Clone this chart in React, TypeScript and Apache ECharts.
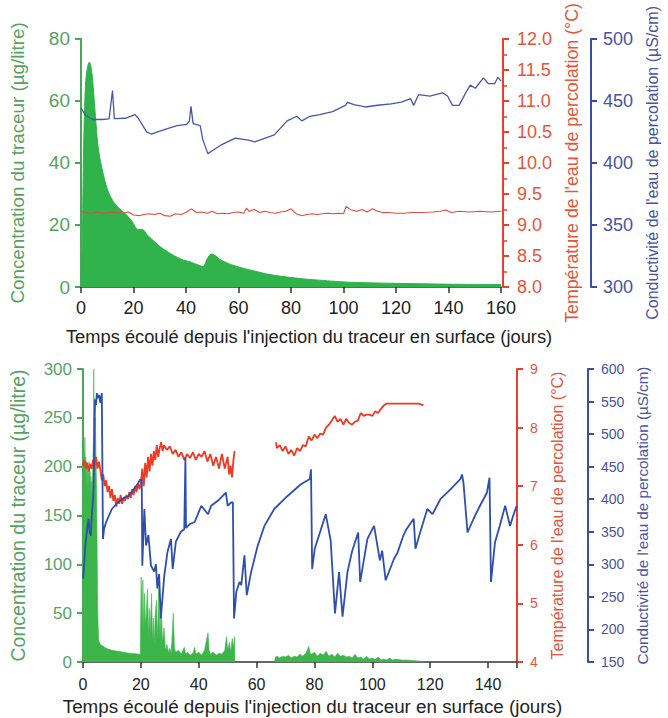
import { useEffect, useRef } from 'react';
import * as echarts from 'echarts';

const FONT = 'Liberation Sans, Arial, sans-serif';

const xTitle = "Temps écoulé depuis l'injection du traceur en surface (jours)";
const concName = 'Concentration du traceur (µg/litre)';
const tempName = "Température de l'eau de percolation (°C)";
const condName = "Conductivité de l'eau de percolation (µS/cm)";

// ---------- Top panel ----------
const topConc: [number, number][] = [
  [0, 0], [0.5, 15], [1, 45], [1.7, 65], [2.5, 71], [3.2, 72.5], [4, 70], [4.6, 65], [5.5, 55], [6.4, 46],
  [7.3, 41], [8.3, 37], [9.5, 33], [10.7, 30], [12, 28], [13.2, 26.5], [15, 25], [17, 23.5], [19.3, 21.3],
  [21.8, 18.5], [23.5, 18.5], [25, 17], [26.7, 15.6], [29, 13.8], [31.6, 12.1], [34, 10.8], [36.6, 9.6],
  [39, 8.7], [41.6, 8.1], [44, 7.3], [46.5, 6.6], [47.3, 7.5], [48, 9], [49.6, 10.6], [51, 10.2], [52.7, 9],
  [55, 8], [57.6, 7.1], [62, 6], [66.3, 5.1], [72, 4], [78.6, 3.2], [85, 2.6], [90.9, 2.2], [97, 1.8],
  [103, 1.5], [112, 1.3], [125, 1.1], [140, 0.9], [160, 0.8],
];

const topTemp: [number, number][] = [
  [0, 9.22], [2, 9.2], [4, 9.18], [6, 9.21], [8, 9.19], [10, 9.2], [12, 9.21], [14, 9.2], [16, 9.19],
  [18, 9.21], [20, 9.16], [22, 9.15], [24, 9.17], [26, 9.18], [28, 9.17], [30, 9.19], [32, 9.15], [34, 9.14],
  [36, 9.18], [38, 9.17], [40, 9.2], [42, 9.26], [44, 9.2], [46, 9.21], [48, 9.19], [50, 9.22], [52, 9.18],
  [54, 9.19], [56, 9.18], [58, 9.2], [60, 9.21], [62, 9.19], [63, 9.27], [64, 9.22], [66, 9.25], [68, 9.2],
  [70, 9.22], [72, 9.2], [74, 9.19], [76, 9.21], [78, 9.22], [80, 9.26], [82, 9.18], [84, 9.15], [86, 9.17],
  [88, 9.18], [90, 9.17], [92, 9.18], [94, 9.19], [96, 9.18], [98, 9.19], [100, 9.18], [101, 9.3], [103, 9.24],
  [105, 9.22], [107, 9.25], [109, 9.21], [111, 9.26], [113, 9.22], [115, 9.2], [117, 9.2], [120, 9.19],
  [123, 9.19], [126, 9.2], [130, 9.2], [134, 9.21], [137, 9.22], [139, 9.24], [141, 9.2], [144, 9.22],
  [148, 9.21], [152, 9.22], [156, 9.21], [160, 9.22],
];

const topCond: [number, number][] = [
  [0, 444], [2, 438], [4.6, 435], [8, 435], [10.7, 435.5], [12, 458.4], [12.7, 435.7], [16.9, 436],
  [20.6, 439], [21.8, 436], [25, 425], [26.7, 423.3], [29.2, 425], [32.9, 427.6], [36.6, 430], [40.3, 431],
  [41.3, 434], [41.9, 445.6], [42.7, 431.7], [45.4, 430], [46.4, 418.8], [48.3, 407.5], [50.1, 410],
  [53.8, 415], [58.8, 420], [63.7, 418.3], [66.2, 416.9], [68.6, 418.8], [73.6, 422.6], [78.5, 433.9],
  [82.2, 437.6], [84.1, 433.9], [87.2, 437.6], [90.9, 438.9], [95.8, 441.4], [100.7, 446.4], [101.5, 448.9],
  [104, 447], [108.3, 445.1], [113, 446.5], [118.1, 447.6], [122, 449], [125.5, 451.9], [126.7, 446.4],
  [128.6, 455.1], [132.9, 453.9], [135, 455], [137.8, 456.4], [139.6, 453.9], [141.5, 446.4], [144, 446.4],
  [146.5, 456.4], [148.3, 462.7], [150.2, 460.2], [153.3, 468.5], [155.1, 464], [157.6, 464], [158.8, 469],
  [160, 466],
];

// ---------- Bottom panel ----------
const botConcA: [number, number][] = [
  [0, 0], [0.05, 225], [0.2, 185], [0.35, 215], [0.5, 195], [0.65, 230], [0.8, 190], [0.95, 210], [1.1, 180],
  [1.25, 205], [1.4, 175], [1.55, 200], [1.7, 170], [1.85, 195], [2.0, 180], [2.15, 205], [2.3, 175],
  [2.45, 195], [2.6, 170], [2.75, 190], [2.9, 165], [3.05, 185], [3.2, 170], [3.4, 200], [3.6, 230], [3.7, 300],
  [3.85, 240], [4.0, 270], [4.15, 220], [4.3, 250], [4.5, 210], [4.7, 170], [4.9, 110], [5.1, 50], [5.4, 22],
  [6, 18], [7, 16], [8, 14], [9, 13], [10, 12], [12, 11], [14, 10], [16, 9], [18, 8.5], [19.8, 8], [20.1, 87],
  [20.4, 40], [20.7, 84], [21, 30], [21.3, 70], [21.6, 35], [22.3, 75], [22.6, 25], [22.9, 55], [23.2, 30],
  [23.7, 70], [24, 20], [24.3, 45], [24.6, 18], [25, 50], [25.4, 63], [25.8, 20], [26.2, 76], [26.6, 25],
  [27, 60], [27.5, 20], [28, 35], [28.5, 12], [29, 18], [29.5, 10], [30, 14], [30.5, 9], [31.2, 50], [31.6, 15],
  [32, 10], [33, 12], [34, 8], [35, 15], [35.5, 8], [36, 10], [37, 7], [38, 9], [38.6, 15], [39, 8], [40, 10],
  [41, 7], [42, 12], [43.2, 30], [43.6, 12], [44, 8], [45, 10], [46, 7], [47, 9], [48, 8], [49, 12], [49.6, 26],
  [50, 12], [50.6, 20], [51, 10], [51.6, 24], [52, 15], [52.4, 26], [52.5, 0],
];

const botConcB: [number, number][] = [
  [66.2, 0], [66.5, 5], [67, 6], [68, 4], [69, 6], [70, 5], [71, 7], [72, 4], [73, 6], [74, 5], [75, 8],
  [76, 6], [77, 9], [77.5, 12], [78, 16], [78.5, 9], [79, 8], [80, 10], [81, 6], [82, 9], [83, 7], [84, 11],
  [85, 6], [86, 8], [87, 5], [88, 9], [89, 6], [90, 7], [91, 5], [92, 6], [93, 4], [94, 8], [95, 4], [96, 5],
  [97, 3], [98, 6], [99, 3], [100, 4], [101, 2.5], [102, 5], [103, 2], [104, 3], [105, 2], [106, 4], [107, 2],
  [108, 3], [110, 2], [112, 2], [114, 1.5], [116, 1], [117.8, 0.5], [118, 0],
];

const botTempA: [number, number][] = [
  [0, 7.35], [0.5, 7.45], [1, 7.3], [1.5, 7.4], [2, 7.25], [2.5, 7.38], [3, 7.3], [3.5, 7.45], [4, 7.35],
  [4.5, 7.5], [5, 7.3], [5.5, 7.42], [6, 7.28], [6.5, 7.1], [7, 7.2], [7.5, 7.0], [8, 7.1], [8.5, 6.9], [9, 7.0],
  [9.5, 6.8], [10, 6.95], [10.5, 6.75], [11, 6.85], [11.5, 6.65], [12, 6.8], [12.5, 6.7], [13, 6.85],
  [13.5, 6.7], [14, 6.8], [14.5, 6.75], [15, 6.85], [15.5, 6.78], [16, 6.9], [16.5, 6.8], [17, 6.95],
  [17.5, 6.85], [18, 7.0], [18.5, 6.9], [19, 7.05], [19.5, 6.95], [20, 7.05], [20.5, 7.3], [21, 7.0],
  [21.5, 7.4], [22, 7.15], [22.5, 7.5], [23, 7.25], [23.5, 7.55], [24, 7.35], [24.5, 7.6], [25, 7.45],
  [25.5, 7.7], [26, 7.5], [26.5, 7.65], [27, 7.75], [27.5, 7.6], [28, 7.7], [29, 7.62], [30, 7.68], [31, 7.55],
  [32, 7.62], [33, 7.5], [34, 7.58], [35, 7.45], [36, 7.55], [37, 7.48], [38, 7.58], [39, 7.45], [40, 7.55],
  [41, 7.5], [42, 7.6], [43, 7.42], [44, 7.55], [45, 7.35], [46, 7.5], [47, 7.3], [48, 7.55], [49, 7.3],
  [50, 7.5], [50.5, 7.2], [51, 7.35], [51.5, 7.15], [52, 7.45], [52.4, 7.6],
];

const botTempB: [number, number][] = [
  [66.7, 7.75], [67, 7.65], [68, 7.7], [69, 7.6], [70, 7.68], [71, 7.55], [72, 7.62], [73, 7.52], [74, 7.65],
  [75, 7.6], [76, 7.7], [77, 7.68], [78, 7.85], [79, 7.78], [80, 7.88], [81, 7.82], [82, 7.9], [83, 7.88],
  [84, 8.0], [85, 8.05], [86, 8.12], [87, 8.2], [88, 8.1], [89, 8.15], [90, 8.05], [91, 8.15], [92, 8.08],
  [93, 8.05], [94, 8.1], [95, 8.12], [96, 8.25], [97, 8.2], [98, 8.22], [99, 8.22], [100, 8.2], [101, 8.28],
  [102, 8.25], [103, 8.32], [104, 8.38], [105, 8.41], [107, 8.41], [110, 8.41], [113, 8.41], [116, 8.41],
  [117.7, 8.38],
];

const botCond: [number, number][] = [
  [0, 278], [0.4, 300], [0.8, 329], [1.2, 345], [1.6, 360], [1.9, 370], [2.3, 350], [2.7, 344], [3.1, 380],
  [3.5, 400], [3.7, 431], [4.0, 520], [4.2, 553], [4.5, 545], [4.8, 563], [5.2, 555], [5.6, 560], [6.0, 548],
  [6.5, 563], [6.9, 339], [7.3, 355], [8, 365], [9, 375], [10, 385], [11, 390], [12, 395], [13, 398], [14, 402],
  [15.7, 405], [17, 412], [18, 418], [19, 424], [19.7, 430], [20.3, 430], [20.5, 298], [21.2, 385],
  [21.8, 329], [22.6, 345], [23.5, 298], [24.6, 289], [25.2, 300], [25.7, 263], [26.3, 285], [26.9, 217],
  [28.1, 283], [29.2, 319], [30.4, 339], [31, 293], [32.1, 335], [33.8, 350], [35, 354], [35.4, 464],
  [35.6, 356], [37, 362], [38.6, 365], [40.9, 390], [43.2, 377], [44.3, 390], [46.6, 397.6], [49.4, 410],
  [50, 390], [51.2, 395], [51.8, 395], [52.2, 217], [53, 258], [54.1, 273], [54.7, 268], [55.8, 313.7],
  [56.6, 252.6], [58.1, 288], [60.4, 329], [62.7, 359], [66.1, 385], [70.7, 405], [75.3, 423], [78.4, 431],
  [78.8, 446], [79.2, 293], [80.1, 324], [83.9, 377], [85.6, 336.6], [87.1, 224.7], [88.5, 288], [89.7, 219.7],
  [91.4, 288], [93, 320], [95.1, 349], [95.8, 273], [98.3, 339], [100.6, 359], [102.6, 306], [103.4, 321],
  [104.6, 275.5], [107.5, 308.6], [108.7, 318], [110.7, 344], [111.8, 354], [114.3, 370], [114.9, 324],
  [116.6, 350], [119, 385], [120.8, 377], [123.5, 400], [127, 415], [130.4, 430.7], [131, 438], [131.5, 425],
  [132.9, 349], [135, 370], [137.2, 390], [139.6, 410], [140.5, 433], [141, 273], [142.4, 334], [144.1, 360],
  [145.9, 390], [147.6, 359], [148.7, 375], [149.9, 390],
];

const GREEN_AX = '#4ca65a';
const GREEN_TXT = '#55a35f';
const GREEN_FILL = '#2fb34a';
const RED_AX = '#e8402c';
const RED_TXT = '#e5553c';
const BLUE_AX = '#3a4ea6';
const BLUE_TXT = '#4953a0';

function yAxisDef(o: any) {
  return {
    type: 'value',
    gridIndex: o.grid,
    position: o.position,
    offset: o.offset || 0,
    min: o.min,
    max: o.max,
    interval: o.interval,
    axisLine: { show: true, onZero: false, lineStyle: { color: o.color, width: 2 } },
    axisTick: { show: true, length: 6, lineStyle: { color: o.color, width: 2 } },
    minorTick: o.minor
      ? { show: true, splitNumber: 2, length: 4, lineStyle: { color: o.color, width: 1.5 } }
      : { show: false },
    axisLabel: {
      fontSize: o.labelSize,
      color: o.textColor,
      margin: o.margin,
      fontFamily: FONT,
      formatter: o.formatter,
    },
    splitLine: { show: false },
    name: o.name,
    nameLocation: 'middle',
    nameRotate: 90,
    nameGap: o.nameGap,
    nameTextStyle: { fontSize: o.nameSize, color: o.textColor, fontFamily: FONT },
  };
}

function xAxisDef(o: any) {
  return {
    type: 'value',
    gridIndex: o.grid,
    min: 0,
    max: o.max,
    interval: 20,
    axisLine: { onZero: false, lineStyle: { color: '#333', width: 1.5 } },
    axisTick: { length: 6, lineStyle: { color: '#333', width: 1.5 } },
    axisLabel: {
      fontSize: o.labelSize,
      color: '#222',
      margin: o.margin,
      fontFamily: FONT,
      formatter: (v: number) => (v > 140 && o.max === 150 ? '' : String(v)),
    },
    splitLine: { show: false },
    name: xTitle,
    nameLocation: 'middle',
    nameGap: o.nameGap,
    nameTextStyle: { fontSize: o.nameSize, color: '#222', fontFamily: FONT, padding: o.namePad },
  };
}

export default function App() {
  const ref = useRef<HTMLDivElement>(null);
  useEffect(() => {
    const chart = echarts.init(ref.current!, null, { renderer: 'svg' });
    const option: any = {
      animation: false,
      backgroundColor: '#fff',
      textStyle: { fontFamily: FONT },
      grid: [
        { left: 81, right: 155, top: 20, height: 267 },
        { left: 81, right: 151, top: 369, height: 293 },
      ],
      xAxis: [
        xAxisDef({ grid: 0, max: 160, labelSize: 18, margin: 12, nameGap: 40, nameSize: 18.3, namePad: [0, 0, 0, 36] }),
        xAxisDef({ grid: 1, max: 150, labelSize: 16, margin: 14, nameGap: 35, nameSize: 18.8, namePad: [0, 0, 0, 25] }),
      ],
      yAxis: [
        yAxisDef({ grid: 0, position: 'left', min: 0, max: 80, interval: 20, color: GREEN_AX, textColor: GREEN_TXT,
          labelSize: 19, margin: 11, name: concName, nameGap: 54, nameSize: 18.8 }),
        yAxisDef({ grid: 0, position: 'right', offset: 2, min: 8, max: 12, interval: 0.5, minor: true, color: RED_AX,
          textColor: RED_TXT, labelSize: 18, margin: 14, name: tempName, nameGap: 58, nameSize: 17.8,
          formatter: (v: number) => v.toFixed(1) }),
        yAxisDef({ grid: 0, position: 'right', offset: 90, min: 300, max: 500, interval: 50, color: BLUE_AX,
          textColor: BLUE_TXT, labelSize: 18, margin: 12, name: condName, nameGap: 51, nameSize: 16 }),
        yAxisDef({ grid: 1, position: 'left', min: 0, max: 300, interval: 50, color: GREEN_AX, textColor: GREEN_TXT,
          labelSize: 17, margin: 11, name: concName, nameGap: 55, nameSize: 19.5 }),
        yAxisDef({ grid: 1, position: 'right', offset: 0, min: 4, max: 9, interval: 1, color: RED_AX,
          textColor: RED_TXT, labelSize: 14, margin: 13, name: tempName, nameGap: 32, nameSize: 16 }),
        yAxisDef({ grid: 1, position: 'right', offset: 71, min: 150, max: 600, interval: 50, color: BLUE_AX,
          textColor: BLUE_TXT, labelSize: 14, margin: 13, name: condName, nameGap: 44, nameSize: 15.2 }),
      ],
      series: [
        { type: 'line', xAxisIndex: 0, yAxisIndex: 0, data: topConc, showSymbol: false, smooth: 0.3,
          lineStyle: { color: GREEN_FILL, width: 1 }, areaStyle: { color: GREEN_FILL, opacity: 1 } },
        { type: 'line', xAxisIndex: 0, yAxisIndex: 1, data: topTemp, showSymbol: false,
          lineStyle: { color: '#e24a3c', width: 1.1 } },
        { type: 'line', xAxisIndex: 0, yAxisIndex: 2, data: topCond, showSymbol: false,
          lineStyle: { color: '#4656aa', width: 1.3 } },
        { type: 'line', xAxisIndex: 1, yAxisIndex: 3, data: botConcA, showSymbol: false,
          lineStyle: { color: '#3cb54a', width: 0.6 }, areaStyle: { color: '#3cb54a', opacity: 1 } },
        { type: 'line', xAxisIndex: 1, yAxisIndex: 3, data: botConcB, showSymbol: false,
          lineStyle: { color: '#3cb54a', width: 0.6 }, areaStyle: { color: '#3cb54a', opacity: 1 } },
        { type: 'line', xAxisIndex: 1, yAxisIndex: 4, data: botTempA, showSymbol: false,
          lineStyle: { color: '#ee3a22', width: 1.8 } },
        { type: 'line', xAxisIndex: 1, yAxisIndex: 4, data: botTempB, showSymbol: false,
          lineStyle: { color: '#ee3a22', width: 1.8 } },
        { type: 'line', xAxisIndex: 1, yAxisIndex: 5, data: botCond, showSymbol: false,
          lineStyle: { color: '#2f4fae', width: 1.8 } },
      ],
    };
    chart.setOption(option);
    return () => chart.dispose();
  }, []);
  return <div ref={ref} style={{ position: 'absolute', left: 0, top: 0, width: 668, height: 718 }} />;
}
